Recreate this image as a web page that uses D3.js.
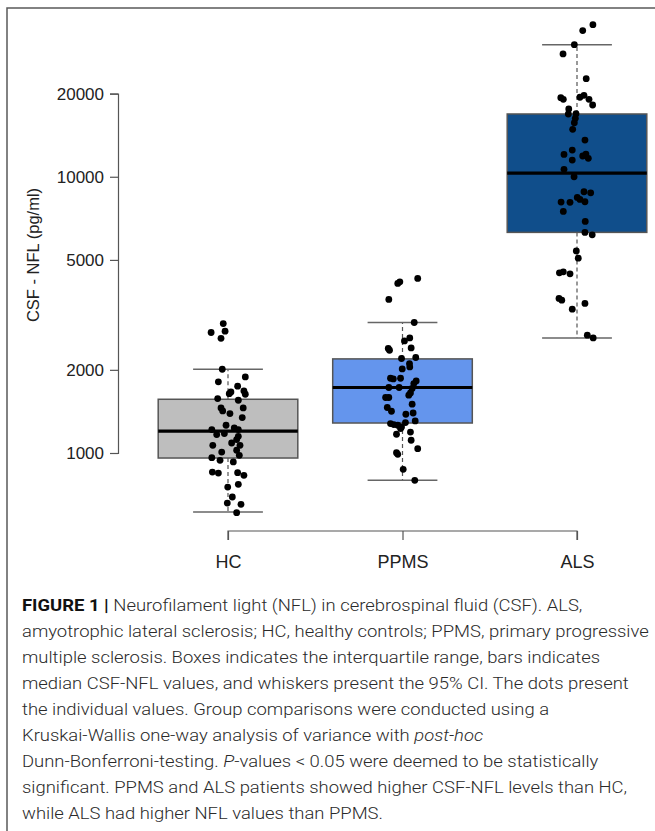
<!DOCTYPE html>
<html>
<head>
<meta charset="utf-8">
<script src="https://cdn.jsdelivr.net/npm/d3@7"></script>
<style>
    body { margin: 0; background: #fff; }
    svg { display: block; }
</style>
</head>
<body>
<svg id="chart" width="655" height="831"></svg>
<script>
const categories = ["HC", "PPMS", "ALS"];
const boxFills = ["#bebebe", "#6495ed", "#104e8b"];
const yTicks = [1000, 2000, 5000, 10000, 20000];

// box statistics per group (pg/ml)
const whiskerLow = [611, 796, 2610];
const q1 = [959, 1284, 6290];
const median = [1201, 1726, 10313];
const q3 = [1565, 2191, 16875];
const whiskerHigh = [2010, 2968, 30070];

// individual values and their horizontal jitter (fraction of box width)
const hcValues = [2940, 2730, 2760, 2600, 2010, 1885, 1810, 1745, 1663, 1640, 1677, 1632, 1574, 1552,
    1456, 1420, 1389, 1456, 1343, 1260, 1216, 1232, 1216, 1166, 1176, 1149, 1118, 1087, 1066, 1066,
    1023, 1008, 981, 962, 941, 928, 853, 846, 849, 830, 753, 770, 693, 659, 652, 608];
const hcJitter = [-0.034, -0.121, -0.021, -0.05, -0.041, 0.124, -0.069, 0.069, 0.021, 0.009, 0.114, 0.124,
    -0.074, 0.074, -0.05, -0.038, 0.014, 0.109, 0.102, -0.014, -0.116, 0.045, 0.074, -0.081, -0.026, 0.074,
    0.062, 0.026, -0.109, 0.086, 0.062, -0.045, 0.081, -0.116, -0.057, 0.038, -0.112, -0.069, 0.069, 0.114,
    -0.002, 0.074, 0.031, -0.005, 0.093, 0.062];

const ppmsValues = [4285, 4165, 4110, 3596, 2968, 2546, 2610, 2389, 2355, 2401, 2198, 2217, 2108, 2049,
    2016, 1865, 1854, 1865, 1823, 1784, 1726, 1726, 1712, 1650, 1619, 1588, 1588, 1502, 1461, 1416, 1381,
    1396, 1306, 1278, 1267, 1260, 1242, 1289, 1169, 1226, 1191, 1112, 1037, 1003, 989, 873, 796];
const ppmsJitter = [0.109, -0.019, -0.034, -0.098, 0.084, 0.014, 0.052, -0.102, -0.093, 0.062, -0.007, 0.095,
    0.05, 0.052, -0.002, -0.086, -0.066, -0.014, 0.098, 0.081, -0.098, -0.024, 0.069, 0.057, 0.045, -0.121,
    -0.098, 0.069, -0.109, -0.079, 0.024, 0.076, 0.091, -0.086, -0.062, -0.034, -0.007, 0.021, -0.043, -0.014,
    0.057, 0.062, 0.109, -0.043, -0.034, 0.005, 0.088];

const alsValues = [35540, 33810, 30070, 27840, 22650, 19330, 19070, 19400, 19720, 19070, 18190, 17590, 16870,
    16910, 16280, 15700, 14850, 13580, 12490, 12050, 11890, 12080, 11660, 11490, 10640, 10000, 8825, 8750,
    8420, 8280, 8120, 8100, 8080, 7490, 6890, 6290, 6165, 5390, 5075, 4490, 4527, 4452, 3626, 3575, 3478,
    3317, 2670, 2610];
const alsJitter = [0.114, 0.041, -0.019, -0.1, 0.066, -0.116, -0.098, 0.021, 0.05, 0.086, 0.112, -0.059, -0.062,
    -0.007, -0.012, -0.019, -0.031, 0.057, -0.034, -0.093, 0.041, 0.064, 0.081, -0.034, -0.093, -0.021, 0.05,
    0.098, 0.002, 0.021, 0.057, -0.114, -0.05, -0.098, 0.059, 0.057, 0.109, -0.005, 0.009, -0.126, -0.098,
    -0.05, -0.129, -0.109, 0.057, -0.034, 0.074, 0.116];

const groupValues = [hcValues, ppmsValues, alsValues];
const groupJitter = [hcJitter, ppmsJitter, alsJitter];

const captionLines = [
    [["FIGURE 1 | ", "bold"], ["Neurofilament light (NFL) in cerebrospinal fluid (CSF). ALS,", ""]],
    [["amyotrophic lateral sclerosis; HC, healthy controls; PPMS, primary progressive", ""]],
    [["multiple sclerosis. Boxes indicates the interquartile range, bars indicates", ""]],
    [["median CSF-NFL values, and whiskers present the 95% CI. The dots present", ""]],
    [["the individual values. Group comparisons were conducted using a", ""]],
    [["Kruskai-Wallis one-way analysis of variance with ", ""], ["post-hoc", "italic"]],
    [["Dunn-Bonferroni-testing. ", ""], ["P", "italic"], ["-values < 0.05 were deemed to be statistically", ""]],
    [["significant. PPMS and ALS patients showed higher CSF-NFL levels than HC,", ""]],
    [["while ALS had higher NFL values than PPMS.", ""]]
];

const svg = d3.select("#chart");
const font = "'Liberation Sans', Arial, sans-serif";

// frame
svg.append("path")
    .attr("d", "M7,831V8H655")
    .attr("fill", "none")
    .attr("stroke", "#5a5a5a")
    .attr("stroke-width", 1.5);

const y = d3.scaleLog().domain([1000, 20000]).range([453, 93.6]);
const x = d3.scalePoint().domain(categories).range([228, 577]);
const boxW = x.step() * 0.8;
const capW = boxW / 2;

// y axis
const yAxis = svg.append("g")
    .attr("transform", "translate(118,0)")
    .call(d3.axisLeft(y).tickValues(yTicks).tickFormat(d3.format("d")).tickSize(8).tickPadding(6));
yAxis.select(".domain").attr("stroke", "#555").attr("stroke-width", 1.2);
yAxis.selectAll(".tick line").attr("stroke", "#555").attr("stroke-width", 1.2);
yAxis.selectAll(".tick text")
    .attr("font-family", font)
    .attr("font-size", 17)
    .attr("fill", "#222");

svg.append("text")
    .attr("transform", "translate(39,255) rotate(-90)")
    .attr("text-anchor", "middle")
    .attr("font-family", font)
    .attr("font-size", 16.5)
    .attr("fill", "#222")
    .text("CSF - NFL (pg/ml)");

// x axis
const xAxis = svg.append("g")
    .attr("transform", "translate(0,531)")
    .call(d3.axisBottom(x).tickSize(9).tickSizeOuter(0).tickPadding(15));
xAxis.select(".domain").attr("stroke", "#555").attr("stroke-width", 1.2)
    .attr("d", `M${x("HC")},9V0H${x("ALS")}V9`);
xAxis.selectAll(".tick line").attr("stroke", "#555").attr("stroke-width", 1.2);
xAxis.selectAll(".tick text")
    .attr("font-family", font)
    .attr("font-size", 18)
    .attr("fill", "#222");

// boxes
const boxes = svg.append("g").selectAll("g")
    .data(categories)
    .join("g");

boxes.append("line")
    .attr("x1", d => x(d)).attr("x2", d => x(d))
    .attr("y1", (d, i) => y(q3[i])).attr("y2", (d, i) => y(whiskerHigh[i]))
    .attr("stroke", "#555").attr("stroke-width", 1.2).attr("stroke-dasharray", "4,3");
boxes.append("line")
    .attr("x1", d => x(d)).attr("x2", d => x(d))
    .attr("y1", (d, i) => y(q1[i])).attr("y2", (d, i) => y(whiskerLow[i]))
    .attr("stroke", "#555").attr("stroke-width", 1.2).attr("stroke-dasharray", "4,3");

[whiskerLow, whiskerHigh].forEach(w => {
    boxes.append("line")
        .attr("x1", d => x(d) - capW / 2).attr("x2", d => x(d) + capW / 2)
        .attr("y1", (d, i) => y(w[i])).attr("y2", (d, i) => y(w[i]))
        .attr("stroke", "#666").attr("stroke-width", 1.5);
});

boxes.append("rect")
    .attr("x", d => x(d) - boxW / 2)
    .attr("width", boxW)
    .attr("y", (d, i) => y(q3[i]))
    .attr("height", (d, i) => y(q1[i]) - y(q3[i]))
    .attr("fill", (d, i) => boxFills[i])
    .attr("stroke", "#555")
    .attr("stroke-width", 1.5);

boxes.append("line")
    .attr("x1", d => x(d) - boxW / 2).attr("x2", d => x(d) + boxW / 2)
    .attr("y1", (d, i) => y(median[i])).attr("y2", (d, i) => y(median[i]))
    .attr("stroke", "#000").attr("stroke-width", 3.2);

// individual points
categories.forEach((c, gi) => {
    svg.append("g").selectAll("circle")
        .data(groupValues[gi])
        .join("circle")
        .attr("cx", (d, i) => x(c) + groupJitter[gi][i] * boxW)
        .attr("cy", d => y(d))
        .attr("r", 3.4)
        .attr("fill", "#000");
});

// caption (the source figure is slightly stretched horizontally)
const caption = svg.append("text")
    .attr("transform", "translate(22,0) scale(1.085,1)")
    .attr("font-family", "Roboto, 'Liberation Sans', sans-serif")
    .attr("font-weight", 300)
    .attr("font-size", 17)
    .attr("fill", "#2a2a2a");

captionLines.forEach((line, li) => {
    const t = caption.append("tspan")
        .attr("x", 0)
        .attr("y", 611 + li * 26);
    line.forEach(([str, style], si) => {
        const s = si === 0 ? t : caption.append("tspan");
        s.text(str);
        if (style === "bold") s.attr("font-weight", 700).attr("fill", "#111");
        if (style === "italic") s.attr("font-style", "italic");
    });
});
</script>
</body>
</html>
